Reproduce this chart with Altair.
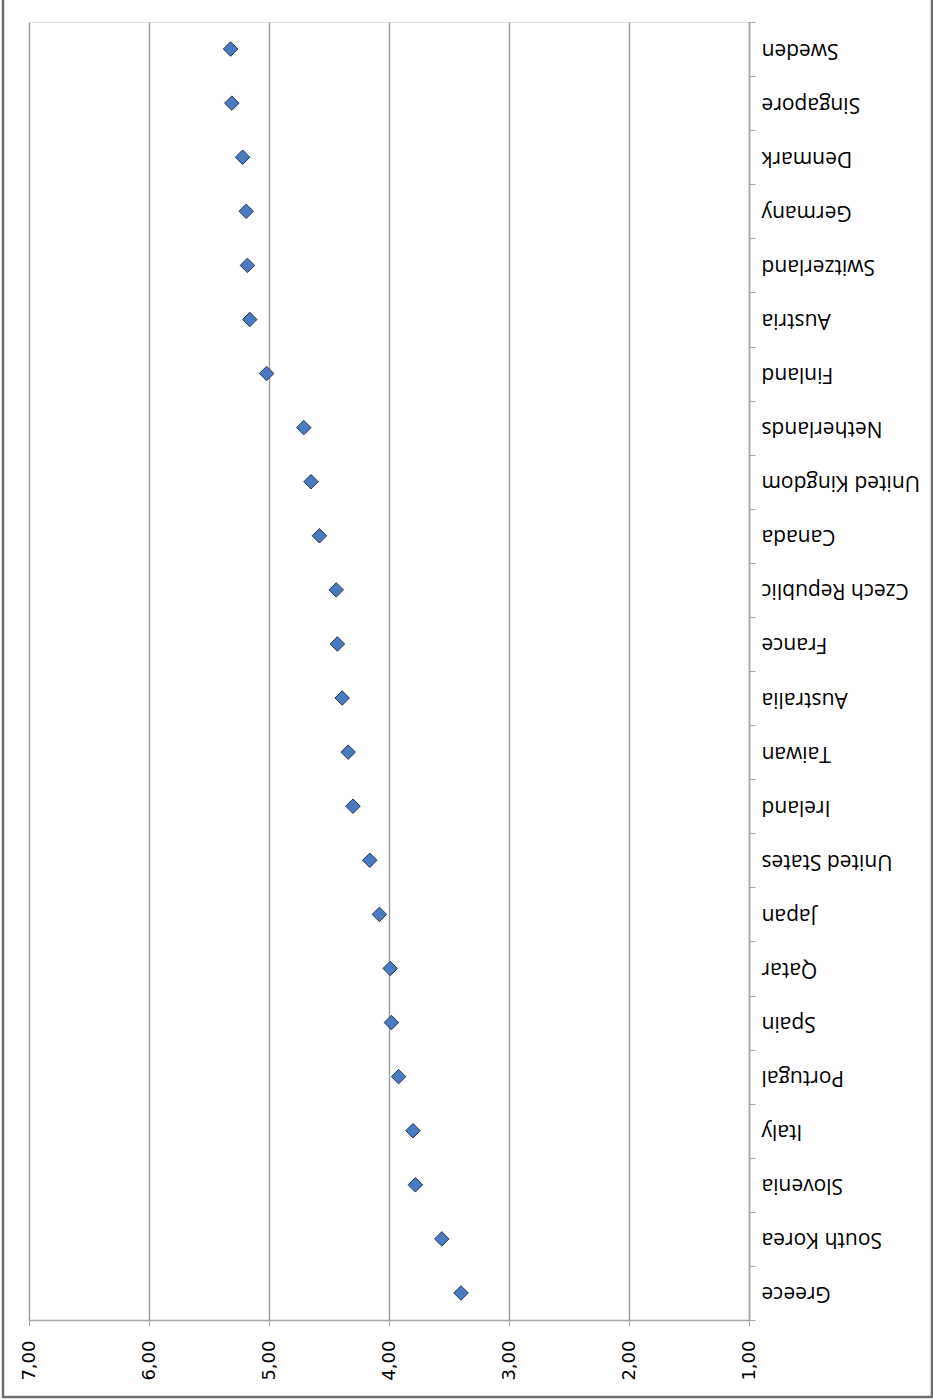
import altair as alt
import pandas as pd

countries = ["Sweden", "Singapore", "Denmark", "Germany", "Switzerland", "Austria",
             "Finland", "Netherlands", "United Kingdom", "Canada", "Czech Republic",
             "France", "Australia", "Taiwan", "Ireland", "United States", "Japan",
             "Qatar", "Spain", "Portugal", "Italy", "Slovenia", "South Korea", "Greece"]
values = [5.32, 5.31, 5.22, 5.19, 5.18, 5.16, 5.02, 4.71, 4.65, 4.58, 4.44,
          4.43, 4.39, 4.34, 4.30, 4.16, 4.08, 3.99, 3.98, 3.92, 3.80, 3.78, 3.56, 3.40]
tick_values = [1, 2, 3, 4, 5, 6, 7]

df = pd.DataFrame({"country": countries, "value": values})

points = alt.Chart(df).mark_point(
    shape="diamond", filled=True, size=210, fill="#4a7bc0",
    stroke="#26334d", strokeWidth=1, opacity=1
).encode(
    x=alt.X("value:Q",
            scale=alt.Scale(domain=[1, 7], reverse=True, nice=False, zero=False),
            axis=alt.Axis(values=tick_values, orient="bottom", title=None,
                          labelExpr="replace(format(datum.value, '.2f'), '.', ',')",
                          labelAngle=270, labelAlign="right", labelBaseline="middle",
                          labelFont="DejaVu Sans", labelFontSize=18, labelColor="#000000",
                          labelPadding=14, tickSize=6, tickColor="#a6a6a6",
                          domainColor="#a6a6a6", domainWidth=1.5,
                          grid=True, gridColor="#9a9a9a", gridWidth=1.4)),
    y=alt.Y("country:N", sort=countries,
            axis=alt.Axis(orient="right", title=None, labelAngle=180,
                          labelAlign="right", labelBaseline="middle",
                          labelFont="Open Sans", labelFontSize=21, labelColor="#000000",
                          labelPadding=6, tickSize=6, tickBand="extent",
                          tickColor="#a6a6a6", domainColor="#a6a6a6", domainWidth=1.5,
                          grid=False))
)

frame = alt.Chart(pd.DataFrame({"k": [0]})).mark_rect(
    fill=None, stroke="#6e6e6e", strokeWidth=2.5
).encode(
    x=alt.value(-26), x2=alt.value(903), y=alt.value(-30), y2=alt.value(1375)
)

chart = alt.layer(frame, points).properties(
    width=720, height=1298,
    padding={"left": 29, "top": 22, "right": 184, "bottom": 80},
    autosize=alt.AutoSizeParams(type="none")
).configure_view(stroke=None).configure(background="white")

chart.save("out.html", embed_options={"renderer": "svg", "actions": False})
